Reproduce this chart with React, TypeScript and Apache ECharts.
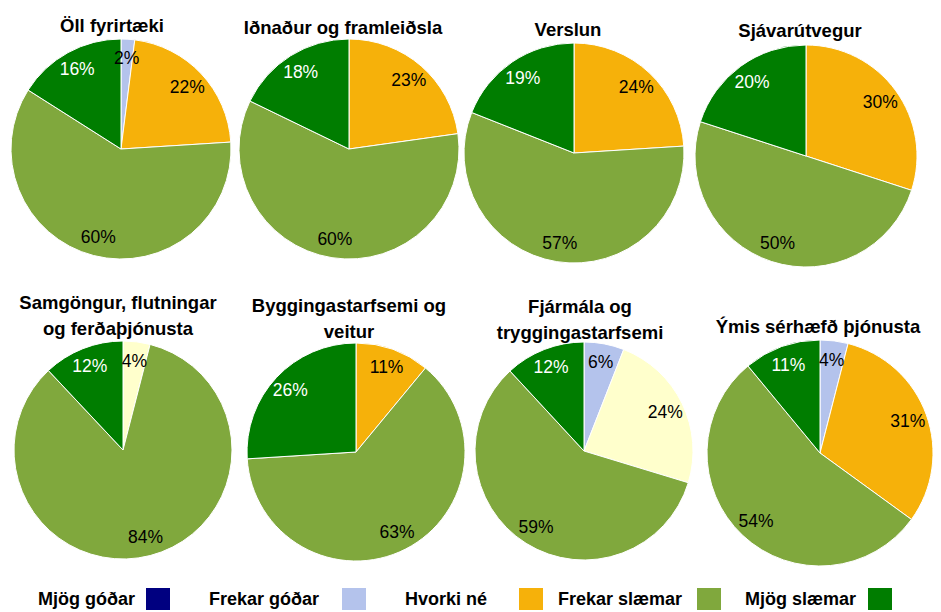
import React, { useEffect, useRef } from 'react';
import * as echarts from 'echarts';

// Slice categories in drawing order (clockwise from 12 o'clock)
const categories = ['Mjög góðar', 'Frekar góðar', 'Veit ekki', 'Hvorki né', 'Frekar slæmar', 'Mjög slæmar'];
const sliceColors = ['#000080', '#B4C3EC', '#FFFFCC', '#F6B10A', '#80A83D', '#007D00'];
const legendNames = ['Mjög góðar', 'Frekar góðar', 'Hvorki né', 'Frekar slæmar', 'Mjög slæmar'];

const titles = [
  'Öll fyrirtæki',
  'Iðnaður og framleiðsla',
  'Verslun',
  'Sjávarútvegur',
  'Samgöngur, flutningar\nog ferðaþjónusta',
  'Byggingastarfsemi og\nveitur',
  'Fjármála og\ntryggingastarfsemi',
  'Ýmis sérhæfð þjónusta',
];

// values per pie, in category order
const ollFyrirtaeki = [0, 2, 0, 22, 60, 16];
const idnadur = [0, 0, 0, 23, 60, 18];
const verslun = [0, 0, 0, 24, 57, 19];
const sjavarutvegur = [0, 0, 0, 30, 50, 20];
const samgongur = [0, 0, 4, 0, 84, 12];
const byggingar = [0, 0, 0, 11, 63, 26];
const fjarmala = [0, 6, 24, 0, 59, 12];
const ymis = [0, 4, 0, 31, 54, 11];

const pieValues = [ollFyrirtaeki, idnadur, verslun, sjavarutvegur, samgongur, byggingar, fjarmala, ymis];

// layout: pie center / radius, title anchor
const pieLayout = [
  { cx: 121, cy: 149, r: 110, tx: 112, ty: 12.5 },
  { cx: 349, cy: 149, r: 110, tx: 343, ty: 14 },
  { cx: 574, cy: 153, r: 110, tx: 568, ty: 16 },
  { cx: 806, cy: 156, r: 111, tx: 800, ty: 17.5 },
  { cx: 123, cy: 450, r: 109, tx: 118, ty: 289 },
  { cx: 356, cy: 452, r: 109, tx: 349, ty: 292 },
  { cx: 584, cy: 451, r: 109, tx: 580, ty: 293 },
  { cx: 820, cy: 453, r: 113, tx: 818, ty: 313 },
];

const legendRight = [771, 575, 398, 220, 49];
const legendTextPad = [6, 18, 27, 10, 7];

const FONT = '"Liberation Sans", Arial, Helvetica, sans-serif';

export default function App() {
  const ref = useRef<HTMLDivElement>(null);

  useEffect(() => {
    if (!ref.current) return;
    const chart = echarts.init(ref.current, null, { renderer: 'svg' });

    const mainSeries = pieValues.map((vals, i) => {
      const L = pieLayout[i];
      return {
        type: 'pie',
        center: [L.cx, L.cy],
        radius: L.r,
        startAngle: 90,
        clockwise: true,
        silent: true,
        label: { show: false },
        labelLine: { show: false },
        data: vals.map((v, k) => ({
          name: categories[k],
          value: v,
          itemStyle: { color: sliceColors[k], borderColor: '#ffffff', borderWidth: v > 0 ? 1 : 0 },
        })),
      };
    });

    const labelSeries = pieValues.map((vals, i) => {
      const L = pieLayout[i];
      return {
        type: 'pie',
        center: [L.cx, L.cy],
        radius: [L.r * 0.6, L.r],
        startAngle: 90,
        clockwise: true,
        silent: true,
        itemStyle: { color: 'rgba(0,0,0,0)', borderWidth: 0 },
        labelLine: { show: false },
        label: {
          show: true,
          position: 'inside',
          fontSize: 17.5,
          fontFamily: FONT,
          color: '#000',
          formatter: (p: any) => (p.value > 0 ? p.value + '%' : ''),
        },
        data: vals.map((v, k) => ({
          name: categories[k],
          value: v,
          label: { show: v > 0, color: k === 5 ? '#ffffff' : '#000000' },
        })),
      };
    });

    const option: any = {
      animation: false,
      backgroundColor: '#ffffff',
      title: titles.map((t, i) => ({
        text: t,
        left: pieLayout[i].tx,
        top: pieLayout[i].ty,
        textAlign: 'center',
        padding: 0,
        textStyle: { fontSize: 18.5, fontWeight: 'bold', color: '#000', fontFamily: FONT, lineHeight: 26.5 },
      })),
      legend: legendNames.map((n, i) => ({
        data: [n],
        right: legendRight[i],
        top: 588,
        orient: 'horizontal',
        align: 'right',
        icon: 'rect',
        itemWidth: 24,
        itemHeight: 22,
        padding: 0,
        selectedMode: false,
        itemStyle: { borderWidth: 0 },
        textStyle: {
          fontSize: 18,
          fontWeight: 'bold',
          color: '#000',
          fontFamily: FONT,
          padding: [0, legendTextPad[i], 0, 0],
        },
      })),
      series: [...mainSeries, ...labelSeries],
    };

    // legend colour for names: orange shown for "Hvorki né", etc., taken from slices with same names
    chart.setOption(option);
    return () => chart.dispose();
  }, []);

  return (
    <div
      ref={ref}
      style={{ position: 'absolute', left: 0, top: 0, width: 941, height: 612, background: '#fff' }}
    />
  );
}
